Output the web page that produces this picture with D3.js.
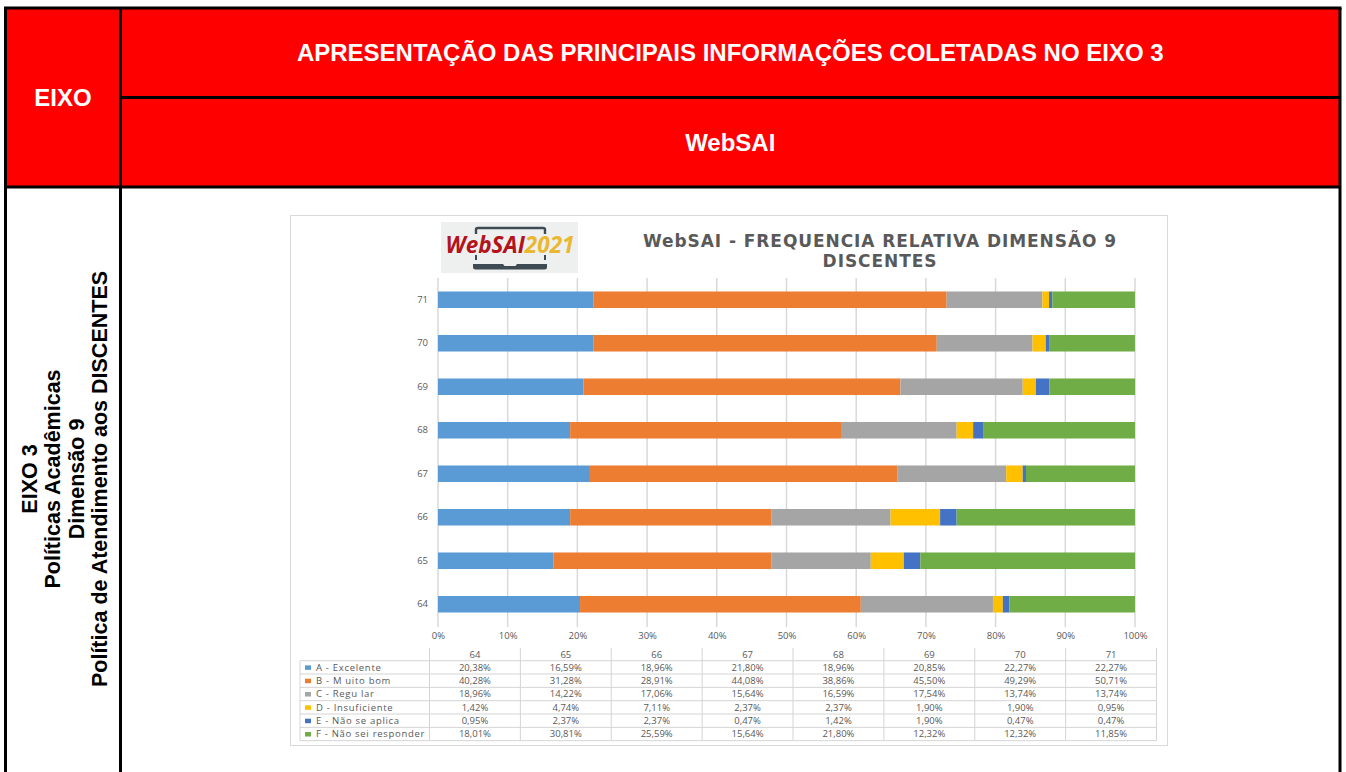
<!DOCTYPE html>
<html lang="pt-BR">
<head>
<meta charset="utf-8">
<script src="https://cdn.jsdelivr.net/npm/d3@7"></script>
<style>
  html, body { margin: 0; padding: 0; background: #fff; }
  svg { display: block; }
</style>
</head>
<body>
<svg id="page" width="1346" height="772"></svg>
<script>
// Categories (questions 64..71) and the six response series, in percent
const categories = ["64", "65", "66", "67", "68", "69", "70", "71"];
const seriesNames = [
  "A - Excelente",
  "B - M uito bom",
  "C - Regu lar",
  "D - Insuficiente",
  "E - Não se aplica",
  "F - Não sei responder"
];
const excelente     = [20.38, 16.59, 18.96, 21.80, 18.96, 20.85, 22.27, 22.27];
const muitoBom      = [40.28, 31.28, 28.91, 44.08, 38.86, 45.50, 49.29, 50.71];
const regular       = [18.96, 14.22, 17.06, 15.64, 16.59, 17.54, 13.74, 13.74];
const insuficiente  = [1.42, 4.74, 7.11, 2.37, 2.37, 1.90, 1.90, 0.95];
const naoSeAplica   = [0.95, 2.37, 2.37, 0.47, 1.42, 1.90, 0.47, 0.47];
const naoSeiResp    = [18.01, 30.81, 25.59, 15.64, 21.80, 12.32, 12.32, 11.85];
const seriesColors  = ["#5B9BD5", "#ED7D31", "#A5A5A5", "#FFC000", "#4472C4", "#70AD47"];
const xTicks = [0, 10, 20, 30, 40, 50, 60, 70, 80, 90, 100];

const seriesValues = [excelente, muitoBom, regular, insuficiente, naoSeAplica, naoSeiResp];
const keys = ["a", "b", "c", "d", "e", "f"];
const rows = categories.map((c, i) => {
  const r = { cat: c };
  keys.forEach((k, j) => r[k] = seriesValues[j][i]);
  return r;
});

const ptBR = d3.formatLocale({ decimal: ",", thousands: ".", grouping: [3], currency: ["R$", ""] });
const fmtPct = v => ptBR.format(".2f")(v) + "%";

const svg = d3.select("#page");
const RED = "#FF0000";

// ---------- Outer table (header cells + body row) ----------
const T = { left: 5.5, right: 1340, top: 8, mid: 97.5, head: 187, col: 120.5, bottom: 790 };
svg.append("rect").attr("x", T.left).attr("y", T.top)
  .attr("width", T.right - T.left).attr("height", T.head - T.top).attr("fill", RED);

const borders = svg.append("g").attr("stroke", "#000").attr("stroke-width", 3).attr("fill", "none");
borders.append("line").attr("x1", T.left - 1.5).attr("x2", T.right + 1.5).attr("y1", T.top).attr("y2", T.top);
borders.append("line").attr("x1", T.col).attr("x2", T.right).attr("y1", T.mid).attr("y2", T.mid);
borders.append("line").attr("x1", T.left).attr("x2", T.right).attr("y1", T.head).attr("y2", T.head);
borders.append("line").attr("x1", T.left).attr("x2", T.left).attr("y1", T.top).attr("y2", T.bottom);
borders.append("line").attr("x1", T.col).attr("x2", T.col).attr("y1", T.top).attr("y2", T.bottom);
borders.append("line").attr("x1", T.right).attr("x2", T.right).attr("y1", T.top).attr("y2", T.bottom);

const headFont = "Liberation Sans, Arial, sans-serif";
svg.append("text").attr("x", (T.left + T.col) / 2).attr("y", 98).attr("dy", "0.35em")
  .attr("text-anchor", "middle").attr("font-family", headFont).attr("font-weight", "bold")
  .attr("font-size", 24).attr("fill", "#fff").text("EIXO");
svg.append("text").attr("x", (T.col + T.right) / 2).attr("y", 53).attr("dy", "0.35em")
  .attr("text-anchor", "middle").attr("font-family", headFont).attr("font-weight", "bold")
  .attr("font-size", 24).attr("fill", "#fff").text("APRESENTAÇÃO DAS PRINCIPAIS INFORMAÇÕES COLETADAS NO EIXO 3");
svg.append("text").attr("x", (T.col + T.right) / 2).attr("y", 143).attr("dy", "0.35em")
  .attr("text-anchor", "middle").attr("font-family", headFont).attr("font-weight", "bold")
  .attr("font-size", 24).attr("fill", "#fff").text("WebSAI");

// Rotated description in the left body cell
const sideLines = ["EIXO 3", "Políticas Acadêmicas", "Dimensão 9", "Política de Atendimento aos DISCENTES"];
const sideX = [29, 52.5, 76, 99.5];
sideLines.forEach((t, i) => {
  svg.append("text")
    .attr("transform", `translate(${sideX[i]},479) rotate(-90)`)
    .attr("dy", "0.35em").attr("text-anchor", "middle")
    .attr("font-family", headFont).attr("font-weight", "bold").attr("font-size", 21.5)
    .attr("fill", "#000").text(t);
});

// ---------- Chart ----------
const chart = svg.append("g");
const chartFont = "'Open Sans', Lato, sans-serif";
const textGray = "#595959";

chart.append("rect").attr("x", 290.5).attr("y", 215.5).attr("width", 877).attr("height", 530)
  .attr("fill", "#fff").attr("stroke", "#d9d9d9").attr("stroke-width", 1);

// Logo
const logo = chart.append("g");
logo.append("rect").attr("x", 441).attr("y", 222).attr("width", 137).attr("height", 51).attr("fill", "#eef0f0");
const lapCol = "#3e4b53";
logo.append("path")
  .attr("d", "M476,234 L476,229.5 Q476,228 478,228 L543,228 Q545,228 545,229.5 L545,234")
  .attr("fill", "none").attr("stroke", lapCol).attr("stroke-width", 2.4);
logo.append("line").attr("x1", 476).attr("x2", 476).attr("y1", 255).attr("y2", 260).attr("stroke", lapCol).attr("stroke-width", 2);
logo.append("line").attr("x1", 545).attr("x2", 545).attr("y1", 255).attr("y2", 260).attr("stroke", lapCol).attr("stroke-width", 2);
logo.append("path")
  .attr("d", "M473,264 L503,264 L504.5,266 L515.5,266 L517,264 L547,264 L547,267 Q547,269.5 544.5,269.5 L475.5,269.5 Q473,269.5 473,267 Z")
  .attr("fill", lapCol);
const logoText = logo.append("text").attr("x", 510).attr("y", 245.5).attr("dy", "0.35em")
  .attr("text-anchor", "middle").attr("font-family", "'Open Sans', sans-serif")
  .attr("font-style", "italic").attr("font-weight", "bold").attr("font-size", 22.5);
logoText.append("tspan").attr("fill", "#b3131b").text("WebSAI");
logoText.append("tspan").attr("fill", "#e9b730").text("2021");

// Title: two lines, lightly letter-spaced so the first line spans the chart header width
const titleLines = ["WebSAI - FREQUENCIA RELATIVA DIMENSÃO 9", "DISCENTES"];
const titleBase = [247, 267];
const titleTexts = titleLines.map((t, i) => chart.append("text")
  .attr("x", 880).attr("y", titleBase[i]).attr("text-anchor", "middle")
  .attr("font-family", "'DejaVu Sans', sans-serif").attr("font-weight", "bold")
  .attr("font-size", 17).attr("fill", textGray).text(t));
const naturalW = titleTexts[0].node().getComputedTextLength();
const ls = Math.max(0, (474 - naturalW) / titleLines[0].length);
titleTexts.forEach(t => t.attr("letter-spacing", ls));

// Scales
const x = d3.scaleLinear().domain([0, 100]).range([438, 1135]);
const y = d3.scaleBand().domain(categories.slice().reverse()).range([278, 626]).paddingInner(0.62).paddingOuter(0.31);

// Grid
chart.append("g").selectAll("line").data(xTicks).join("line")
  .attr("x1", d => x(d)).attr("x2", d => x(d)).attr("y1", 278).attr("y2", 627)
  .attr("stroke", "#d9d9d9").attr("stroke-width", 1.5);

// Stacked bars
const stacked = d3.stack().keys(keys)(rows);
chart.append("g").selectAll("g").data(stacked).join("g")
  .attr("fill", (d, i) => seriesColors[i])
  .selectAll("rect").data(d => d).join("rect")
  .attr("x", d => x(d[0])).attr("width", d => x(d[1]) - x(d[0]))
  .attr("y", d => y(d.data.cat)).attr("height", y.bandwidth());

// Axes labels
const xAxis = d3.axisBottom(x).tickValues(xTicks).tickFormat(d => d + "%").tickSize(0).tickPadding(0);
const gx = chart.append("g").attr("transform", "translate(0,632)").call(xAxis);
gx.select(".domain").remove();
gx.selectAll("text").attr("font-family", chartFont).attr("font-size", 9.5).attr("fill", textGray);

const yAxis = d3.axisLeft(y).tickSize(0).tickPadding(10);
const gy = chart.append("g").attr("transform", "translate(438,0)").call(yAxis);
gy.select(".domain").remove();
gy.selectAll("text").attr("font-family", chartFont).attr("font-size", 9.5).attr("fill", textGray);

// Data table
const tbl = { legL: 300, left: 429.5, right: 1156.5, top: 648, headB: 660.7, rowH: 13.33 };
const colW = (tbl.right - tbl.left) / categories.length;
const tg = chart.append("g");
const lineCol = "#d4d4d4";
const tableBottom = tbl.headB + tbl.rowH * seriesNames.length;
// verticals
d3.range(categories.length + 1).forEach(i => {
  tg.append("line").attr("x1", tbl.left + i * colW).attr("x2", tbl.left + i * colW)
    .attr("y1", tbl.top).attr("y2", tableBottom).attr("stroke", lineCol);
});
tg.append("line").attr("x1", tbl.legL).attr("x2", tbl.legL).attr("y1", tbl.headB).attr("y2", tableBottom).attr("stroke", lineCol);
// horizontals
d3.range(seriesNames.length + 1).forEach(i => {
  const yy = tbl.headB + i * tbl.rowH;
  tg.append("line").attr("x1", tbl.legL).attr("x2", tbl.right).attr("y1", yy).attr("y2", yy).attr("stroke", lineCol);
});
// header
tg.selectAll("text.hdr").data(categories).join("text").attr("class", "hdr")
  .attr("x", (d, i) => tbl.left + (i + 0.5) * colW).attr("y", 654.5).attr("dy", "0.35em")
  .attr("text-anchor", "middle").attr("font-family", chartFont).attr("font-size", 9.5)
  .attr("fill", textGray).text(d => d);
// rows
seriesNames.forEach((name, j) => {
  const cy = tbl.headB + (j + 0.5) * tbl.rowH;
  tg.append("rect").attr("x", 305).attr("y", cy - 2).attr("width", 6).attr("height", 4.5).attr("fill", seriesColors[j]);
  tg.append("text").attr("x", 316).attr("y", cy).attr("dy", "0.35em")
    .attr("font-family", chartFont).attr("font-size", 9.5).attr("letter-spacing", 0.7)
    .attr("fill", textGray).text(name);
  seriesValues[j].forEach((v, i) => {
    tg.append("text").attr("x", tbl.left + (i + 0.5) * colW).attr("y", cy).attr("dy", "0.35em")
      .attr("text-anchor", "middle").attr("font-family", chartFont).attr("font-size", 9.5)
      .attr("fill", textGray).text(fmtPct(v));
  });
});
</script>
</body>
</html>
